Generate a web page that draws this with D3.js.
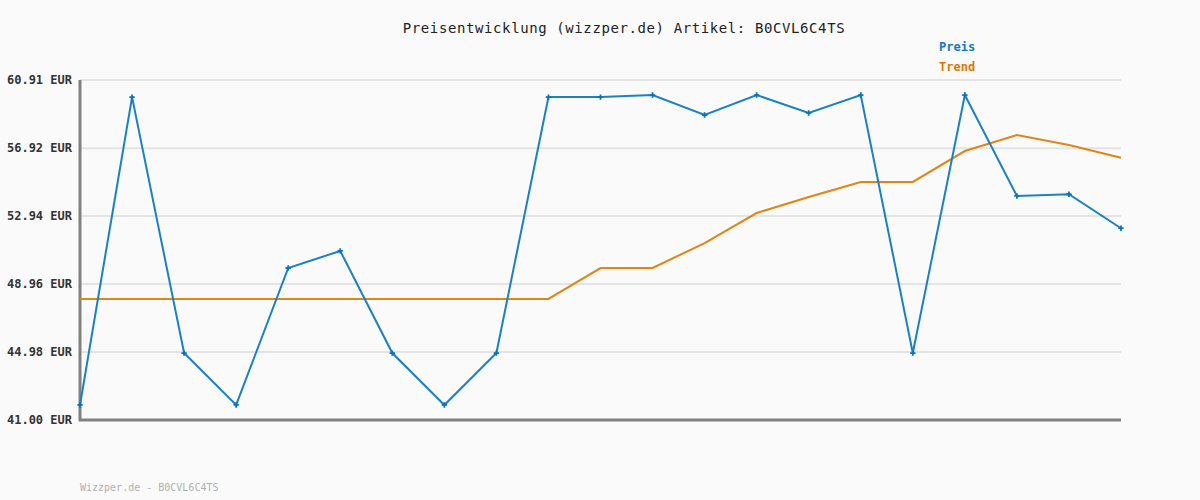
<!DOCTYPE html>
<html>
<head>
<meta charset="utf-8">
<script src="https://cdn.jsdelivr.net/npm/d3@7"></script>
<style>
  body { margin: 0; background: #fafafa; }
  svg { display: block; }
</style>
</head>
<body>
<div id="wrapper"></div>
<script>
// data
const preisValues = [41.88, 59.91, 44.92, 41.88, 49.90, 50.90, 44.92, 41.88, 44.92, 59.91,
                     59.91, 60.03, 58.86, 60.03, 58.98, 60.03, 44.92, 60.03, 54.12, 54.22, 52.23];
const trendValues = [48.09, 48.09, 48.09, 48.09, 48.09, 48.09, 48.09, 48.09, 48.09, 48.09,
                     49.90, 49.90, 51.36, 53.12, 54.06, 54.94, 54.94, 56.75, 57.69, 57.10, 56.36];
const yTicks = [41.00, 44.98, 48.96, 52.94, 56.92, 60.91];
const articleId = "B0CVL6C4TS";

function drawChart(){
    const dimensions = {
        width: 1200,
        height: 500,
        margin: { top: 80, right: 79, bottom: 80, left: 80 },
    }
    dimensions.boundedWidth = dimensions.width - dimensions.margin.left - dimensions.margin.right;
    dimensions.boundedHeight = dimensions.height - dimensions.margin.top - dimensions.margin.bottom;

    const font = "'DejaVu Sans Mono', 'Liberation Mono', monospace";

    const wrapper = d3.select("#wrapper")
        .append("svg")
        .attr("width", dimensions.width)
        .attr("height", dimensions.height)
        .style("background", "#fafafa");

    const bounds = wrapper.append("g")
        .attr("transform", `translate(${dimensions.margin.left},${dimensions.margin.top})`);

    const xScale = d3.scaleLinear()
        .domain([0, preisValues.length - 1])
        .range([0, dimensions.boundedWidth]);

    const yScale = d3.scaleLinear()
        .domain([yTicks[0], yTicks[yTicks.length - 1]])
        .range([dimensions.boundedHeight, 0]);

    // grid
    bounds.append("g")
        .selectAll("line")
        .data(yTicks.slice(1))
        .join("line")
        .attr("x1", 0)
        .attr("x2", dimensions.boundedWidth)
        .attr("y1", d => yScale(d))
        .attr("y2", d => yScale(d))
        .attr("stroke", "#e4e4e4")
        .attr("stroke-width", 2);

    // y axis
    const yAxis = d3.axisLeft(yScale)
        .tickValues(yTicks)
        .tickSize(0)
        .tickPadding(8)
        .tickFormat(d => d3.format(".2f")(d) + " EUR");
    const yAxisG = bounds.append("g").call(yAxis);
    yAxisG.select(".domain").remove();
    yAxisG.selectAll("text")
        .attr("font-family", font)
        .attr("font-size", 12)
        .attr("font-weight", "bold")
        .attr("fill", "#333");

    // axis lines
    bounds.append("line")
        .attr("x1", 0).attr("x2", 0)
        .attr("y1", 0).attr("y2", dimensions.boundedHeight + 1)
        .attr("stroke", "#808080").attr("stroke-width", 3);
    bounds.append("line")
        .attr("x1", -1).attr("x2", dimensions.boundedWidth)
        .attr("y1", dimensions.boundedHeight).attr("y2", dimensions.boundedHeight)
        .attr("stroke", "#808080").attr("stroke-width", 3);

    const line = d3.line()
        .x((d, i) => xScale(i))
        .y(d => yScale(d));

    bounds.append("path")
        .datum(trendValues)
        .attr("d", line)
        .attr("fill", "none")
        .attr("stroke", "#e08516")
        .attr("stroke-width", 2);

    bounds.append("path")
        .datum(preisValues)
        .attr("d", line)
        .attr("fill", "none")
        .attr("stroke", "#1a80c8")
        .attr("stroke-width", 2);

    // markers
    bounds.append("g")
        .selectAll("path")
        .data(preisValues)
        .join("path")
        .attr("transform", (d, i) => `translate(${xScale(i)},${yScale(d)})`)
        .attr("d", d3.symbol(d3.symbolCross, 16))
        .attr("fill", "#0a72c0");

    // title
    wrapper.append("text")
        .attr("x", 624)
        .attr("y", 33)
        .attr("text-anchor", "middle")
        .attr("font-family", font)
        .attr("font-size", 14)
        .attr("letter-spacing", 0.6)
        .attr("fill", "#222")
        .text(`Preisentwicklung (wizzper.de) Artikel: ${articleId}`);

    // legend
    const legend = [["Preis", "#1177cc"], ["Trend", "#dd7700"]];
    wrapper.append("g")
        .selectAll("text")
        .data(legend)
        .join("text")
        .attr("x", 939)
        .attr("y", (d, i) => 51 + i * 20)
        .attr("font-family", font)
        .attr("font-size", 12)
        .attr("font-weight", "bold")
        .attr("fill", d => d[1])
        .text(d => d[0]);

    // footer
    wrapper.append("text")
        .attr("x", 80)
        .attr("y", 491)
        .attr("font-family", font)
        .attr("font-size", 10)
        .attr("fill", "#b0b0b0")
        .text(`Wizzper.de - ${articleId}`);
}
drawChart()
</script>
</body>
</html>
